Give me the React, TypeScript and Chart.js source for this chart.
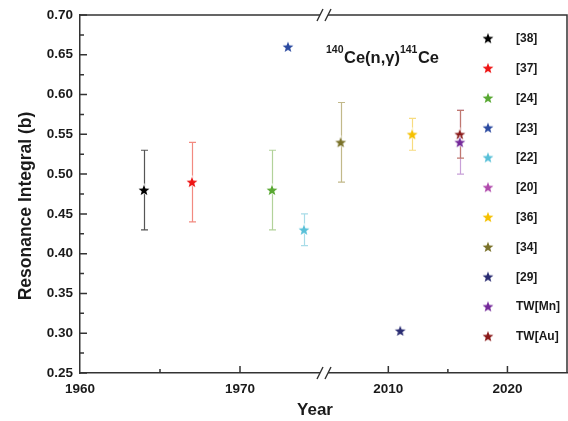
import React, { useEffect, useRef } from 'react';
import { Chart, registerables } from 'chart.js';

Chart.register(...registerables);

// ---------- data ----------
const seriesLabels = ['[38]', '[37]', '[24]', '[23]', '[22]', '[20]', '[36]', '[34]', '[29]', 'TW[Mn]', 'TW[Au]'];
const seriesYears: (number | null)[] = [1964, 1967, 1972, 1973, 1974, null, 2012, 2006, 2011, 2016, 2016];
const seriesValues: (number | null)[] = [0.48, 0.49, 0.48, 0.66, 0.43, null, 0.55, 0.54, 0.303, 0.54, 0.55];
const errorLow: (number | null)[] = [0.43, 0.44, 0.43, null, 0.41, null, 0.53, 0.49, null, 0.5, 0.52];
const errorHigh: (number | null)[] = [0.53, 0.54, 0.53, null, 0.45, null, 0.57, 0.59, null, 0.58, 0.58];

const leftRange = [1960, 1975.25];
const rightRange = [2004.6, 2025];
const breakYear = 1990;
const leftMajorTicks = [1960, 1970];
const leftMinorTicks = [1965];
const rightMajorTicks = [2010, 2020];
const rightMinorTicks = [2015];
const yRange = [0.25, 0.7];
const yMajorTicks = [0.25, 0.3, 0.35, 0.4, 0.45, 0.5, 0.55, 0.6, 0.65, 0.7];
const yMinorTicks = [0.275, 0.325, 0.375, 0.425, 0.475, 0.525, 0.575, 0.625, 0.675];

const titleParts = [
  { text: '140', sup: true },
  { text: 'Ce(n,\u03b3)', sup: false },
  { text: '141', sup: true },
  { text: 'Ce', sup: false },
];
const xTitle = 'Year';
const yTitle = 'Resonance Integral (b)';

// ---------- styles ----------
const markerColors = ['#000000', '#ee1414', '#58a832', '#2b4aa0', '#58c0d8', '#b04aac', '#f5c000', '#7a722a', '#2a2c72', '#74299a', '#8a1a1a'];
const barColors = ['#555555', '#f28a80', '#b2d29a', '#8090c8', '#a8dce8', '#d0a0d0', '#f7dc80', '#c2b98a', '#8080b0', '#c8a0d8', '#c07870'];
const FONT = '"Liberation Sans", Arial, Helvetica, sans-serif';
const AXIS_COLOR = '#333333';
const TEXT_COLOR = '#1a1a1a';

function makeStar(color: string, size = 14) {
  const c = document.createElement('canvas');
  c.width = size;
  c.height = size;
  const ctx = c.getContext('2d')!;
  const cx = size / 2;
  const cy = size / 2 + 0.5;
  const R = 5.7;
  const r = R * 0.42;
  ctx.beginPath();
  for (let i = 0; i < 10; i++) {
    const a = -Math.PI / 2 + (i * Math.PI) / 5;
    const rad = i % 2 === 0 ? R : r;
    ctx.lineTo(cx + rad * Math.cos(a), cy + rad * Math.sin(a));
  }
  ctx.closePath();
  ctx.lineWidth = 1.6;
  ctx.strokeStyle = 'rgba(255,255,255,0.95)';
  ctx.stroke();
  ctx.fillStyle = color;
  ctx.fill();
  return c;
}

const decorPlugin = {
  id: 'decor',
  beforeDatasetsDraw(chart: any) {
    const ctx = chart.ctx;
    const yS = chart.scales.y;
    ctx.save();
    chart.data.datasets.forEach((ds: any, i: number) => {
      const yr = seriesYears[i];
      const lo = errorLow[i];
      const hi = errorHigh[i];
      if (yr == null || lo == null || hi == null) return;
      const xS = chart.scales[ds.xAxisID];
      const x = Math.round(xS.getPixelForValue(yr)) + 0.5;
      const y1 = yS.getPixelForValue(lo);
      const y2 = yS.getPixelForValue(hi);
      ctx.strokeStyle = barColors[i];
      ctx.lineWidth = 1.2;
      ctx.beginPath();
      ctx.moveTo(x, y1);
      ctx.lineTo(x, y2);
      ctx.moveTo(x - 3.5, y1);
      ctx.lineTo(x + 3.5, y1);
      ctx.moveTo(x - 3.5, y2);
      ctx.lineTo(x + 3.5, y2);
      ctx.stroke();
    });
    ctx.restore();
  },
  afterDraw(chart: any) {
    const ctx = chart.ctx;
    const { left, right, top, bottom } = chart.chartArea;
    const yS = chart.scales.y;
    const xL = chart.scales.xL;
    const xR = chart.scales.xR;
    ctx.save();
    ctx.strokeStyle = AXIS_COLOR;
    ctx.lineWidth = 1.5;
    // frame top/right
    ctx.beginPath();
    ctx.moveTo(left, top);
    ctx.lineTo(right, top);
    ctx.lineTo(right, bottom);
    ctx.stroke();
    // inward ticks
    ctx.beginPath();
    const tickX = (s: any, vals: number[], len: number) => {
      vals.forEach((v) => {
        const x = s.getPixelForValue(v);
        ctx.moveTo(x, bottom);
        ctx.lineTo(x, bottom - len);
      });
    };
    tickX(xL, leftMajorTicks.filter((v) => v > leftRange[0]), 7);
    tickX(xL, leftMinorTicks, 4);
    tickX(xR, rightMajorTicks, 7);
    tickX(xR, rightMinorTicks, 4);
    yMajorTicks.forEach((v) => {
      const y = yS.getPixelForValue(v);
      ctx.moveTo(left, y);
      ctx.lineTo(left + 7, y);
    });
    yMinorTicks.forEach((v) => {
      const y = yS.getPixelForValue(v);
      ctx.moveTo(left, y);
      ctx.lineTo(left + 4, y);
    });
    ctx.stroke();
    // axis break marks
    const bx = xL.right;
    [top, bottom].forEach((yy) => {
      ctx.fillStyle = '#ffffff';
      ctx.fillRect(bx - 4, yy - 2, 8, 4);
      ctx.beginPath();
      [bx - 4, bx + 4].forEach((cx) => {
        ctx.moveTo(cx - 3, yy + 6);
        ctx.lineTo(cx + 3, yy - 6);
      });
      ctx.lineWidth = 1.4;
      ctx.stroke();
    });
    // axis titles
    ctx.fillStyle = TEXT_COLOR;
    ctx.font = `bold 17px ${FONT}`;
    ctx.textAlign = 'center';
    ctx.textBaseline = 'middle';
    ctx.fillText(xTitle, 315, 410);
    ctx.save();
    ctx.translate(26, 206);
    ctx.rotate(-Math.PI / 2);
    ctx.font = `bold 17.5px ${FONT}`;
    ctx.fillText(yTitle, 0, 0);
    ctx.restore();
    // chart title with superscripts
    ctx.textAlign = 'left';
    ctx.textBaseline = 'alphabetic';
    let tx = 326;
    titleParts.forEach((p) => {
      ctx.font = p.sup ? `bold 10.5px ${FONT}` : `bold 16.5px ${FONT}`;
      ctx.fillText(p.text, tx, p.sup ? 52.5 : 62.5);
      tx += ctx.measureText(p.text).width + (p.sup ? 0.5 : 0);
    });
    // legend
    ctx.font = `bold 12px ${FONT}`;
    ctx.textBaseline = 'middle';
    chart.data.datasets.forEach((ds: any, i: number) => {
      const y = 38.3 + i * 29.8;
      const img = ds.pointStyle as HTMLCanvasElement;
      ctx.drawImage(img, 488 - img.width / 2, y - img.height / 2);
      ctx.fillStyle = TEXT_COLOR;
      ctx.fillText(ds.label, 516, y + 0.5);
    });
    ctx.restore();
  },
};

export default function App() {
  const ref = useRef<HTMLCanvasElement>(null);
  useEffect(() => {
    const datasets = seriesLabels.map((label, i) => {
      const yr = seriesYears[i];
      const val = seriesValues[i];
      return {
        label,
        data: yr != null && val != null ? [{ x: yr, y: val }] : [],
        xAxisID: yr != null && yr > breakYear ? 'xR' : 'xL',
        yAxisID: 'y',
        pointStyle: makeStar(markerColors[i]),
        pointRadius: 6,
        backgroundColor: markerColors[i],
        borderColor: markerColors[i],
        showLine: false,
      };
    });
    const tickFont = { family: FONT, size: 13.5, weight: 'bold' as const };
    const fitX = (s: any) => {
      s.height = 48;
      s.paddingLeft = 0;
      s.paddingRight = 0;
    };
    const chart = new Chart(ref.current!, {
      type: 'scatter',
      data: { datasets },
      plugins: [decorPlugin],
      options: {
        animation: false,
        responsive: false,
        layout: { autoPadding: false, padding: { top: 15, right: 1, left: 0, bottom: 0 } },
        plugins: { legend: { display: false }, tooltip: { enabled: false }, title: { display: false } },
        scales: {
          xL: {
            type: 'linear',
            position: 'bottom',
            stack: 'x',
            stackWeight: 244,
            min: leftRange[0],
            max: leftRange[1],
            afterBuildTicks: (s: any) => {
              s.ticks = leftMajorTicks.map((v) => ({ value: v }));
            },
            afterFit: fitX,
            ticks: { font: tickFont, color: TEXT_COLOR, padding: 8, maxRotation: 0, autoSkip: false, callback: (v: any) => String(v) },
            grid: { display: false, drawTicks: false },
            border: { display: true, color: AXIS_COLOR, width: 1.5 },
          },
          xR: {
            type: 'linear',
            position: 'bottom',
            stack: 'x',
            stackWeight: 243,
            min: rightRange[0],
            max: rightRange[1],
            afterBuildTicks: (s: any) => {
              s.ticks = rightMajorTicks.map((v) => ({ value: v }));
            },
            afterFit: fitX,
            ticks: { font: tickFont, color: TEXT_COLOR, padding: 8, maxRotation: 0, autoSkip: false, callback: (v: any) => String(v) },
            grid: { display: false, drawTicks: false },
            border: { display: true, color: AXIS_COLOR, width: 1.5 },
          },
          y: {
            type: 'linear',
            position: 'left',
            min: yRange[0],
            max: yRange[1],
            afterBuildTicks: (s: any) => {
              s.ticks = yMajorTicks.map((v) => ({ value: v }));
            },
            afterFit: (s: any) => {
              s.width = 80;
              s.paddingTop = 0;
              s.paddingBottom = 0;
            },
            ticks: { font: tickFont, color: TEXT_COLOR, padding: 7, callback: (v: any) => Number(v).toFixed(2) },
            grid: { display: false, drawTicks: false },
            border: { display: true, color: AXIS_COLOR, width: 1.5 },
          },
        },
      } as any,
    });
    return () => chart.destroy();
  }, []);
  return (
    <div style={{ position: 'fixed', left: 0, top: 0, width: 568, height: 421, background: '#ffffff' }}>
      <canvas ref={ref} width={568} height={421} style={{ width: 568, height: 421, display: 'block' }} />
    </div>
  );
}
